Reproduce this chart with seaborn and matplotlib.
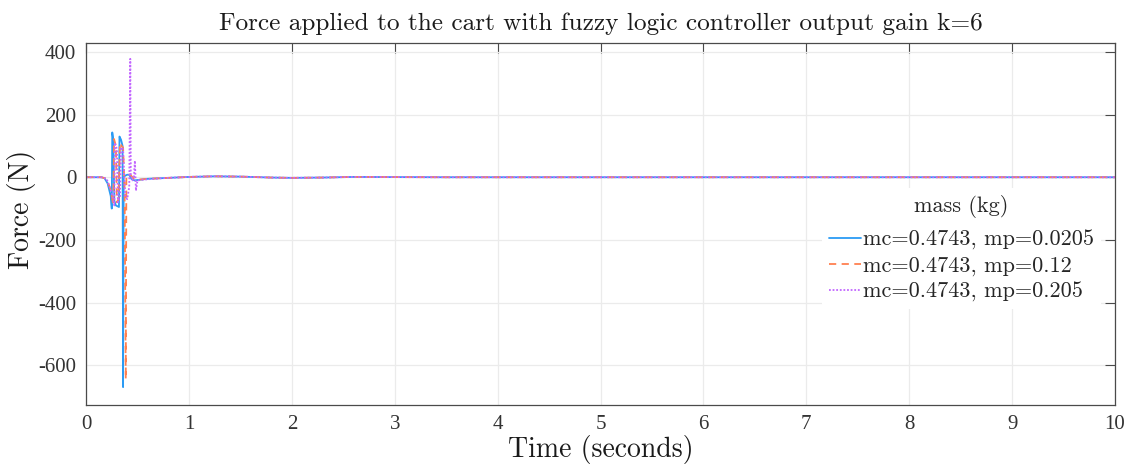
import numpy as np
import pandas as pd
import matplotlib
matplotlib.use("Agg")
import matplotlib.pyplot as plt
import seaborn as sns

# Cart force traces (time in s, force in N) for three pendulum masses
t_light = [0.00, 0.15, 0.18, 0.21, 0.24, 0.250, 0.255, 0.265, 0.275, 0.29, 0.32, 0.325,
           0.34, 0.355, 0.360, 0.366, 0.38, 0.40, 0.42, 0.44, 0.47, 0.52, 0.60, 0.80,
           1.00, 1.25, 1.50, 1.80, 2.00, 2.30, 2.60, 3.00, 3.50, 4.00, 5.00, 6.00, 8.00, 10.0]
f_light = [0, 0, -3, -20, -60, -100, 143, 120, -75, -90, -95, 130,
           120, 100, -670, 0, 5, 8, 8, -5, -10, -8, -5, -2,
           1, 3, 2, -1, -2, -1, 1, 0.5, 0, 0, 0, 0, 0, 0]

t_mid = [0.00, 0.15, 0.20, 0.24, 0.265, 0.272, 0.29, 0.30, 0.315, 0.33, 0.345, 0.36,
         0.375, 0.386, 0.392, 0.41, 0.43, 0.46, 0.50, 0.60, 0.80,
         1.00, 1.25, 1.50, 1.80, 2.00, 2.30, 2.60, 3.00, 3.50, 4.00, 5.00, 6.00, 8.00, 10.0]
f_mid = [0, 0, -5, -40, -90, 122, 100, -80, -70, 110, 100, 95,
         -40, -645, 5, 10, 8, -3, -8, -5, -2,
         1, 3, 2, -1, -2, -1, 1, 0.5, 0, 0, 0, 0, 0, 0]

t_heavy = [0.00, 0.15, 0.20, 0.25, 0.275, 0.28, 0.30, 0.31, 0.33, 0.34, 0.36, 0.38,
           0.40, 0.42, 0.43, 0.435, 0.45, 0.465, 0.475, 0.485, 0.50, 0.55, 0.65, 0.80,
           1.00, 1.25, 1.50, 1.80, 2.00, 2.30, 2.60, 3.00, 3.50, 4.00, 5.00, 6.00, 8.00, 10.0]
f_heavy = [0, 0, -5, -50, -90, 110, 90, -80, -60, 95, 90, -60,
           -70, -30, 378, 10, -10, 0, 53, -43, -10, -8, -5, -2,
           1, 3, 2, -1, -2, -1, 1, 0.5, 0, 0, 0, 0, 0, 0]

labels = ["mc=0.4743, mp=0.0205", "mc=0.4743, mp=0.12", "mc=0.4743, mp=0.205"]
x_ticks = list(range(0, 11))
y_ticks = [-600, -400, -200, 0, 200, 400]

df = pd.concat([
    pd.DataFrame({"Time": t_light, "Force": f_light, "mass": labels[0]}),
    pd.DataFrame({"Time": t_mid, "Force": f_mid, "mass": labels[1]}),
    pd.DataFrame({"Time": t_heavy, "Force": f_heavy, "mass": labels[2]}),
], ignore_index=True)

sns.set_style("white")
plt.rcParams["axes.unicode_minus"] = False
plt.rcParams["mathtext.fontset"] = "cm"

palette = {labels[0]: "#2b9bf4", labels[1]: "#ff8050", labels[2]: "#c266ff"}
dashes = {labels[0]: "", labels[1]: (4, 3), labels[2]: (1, 1)}

fig = plt.figure(figsize=(11.35, 4.66), dpi=100)
ax = fig.add_axes([0.0758, 0.131, 0.9066, 0.777])

sns.lineplot(data=df, x="Time", y="Force", hue="mass", style="mass",
             palette=palette, dashes=dashes, sort=False, estimator=None,
             linewidth=1.3, ax=ax)

ax.set_xlim(0, 10)
ax.set_ylim(-727, 429)
ax.set_xticks(x_ticks)
ax.set_yticks(y_ticks)
ax.set_xticklabels([str(v) for v in x_ticks])
ax.set_yticklabels([str(v) for v in y_ticks])
ax.grid(True, color="#ebebeb", linewidth=0.9)
ax.tick_params(direction="in", top=True, right=True, length=7, width=0.8,
               colors="#4a4a4a", labelcolor="#333333", labelsize=15, pad=7)
for lab in ax.get_xticklabels() + ax.get_yticklabels():
    lab.set_family("Liberation Serif")
for sp in ax.spines.values():
    sp.set_color("#4a4a4a")
    sp.set_linewidth(0.9)

ax.set_title("Force applied to the cart with fuzzy logic controller output gain k=6",
             family="cmr10", fontsize=18.2, pad=9, color="#1a1a1a")
ax.set_xlabel("Time (seconds)", family="cmr10", fontsize=20, labelpad=1, color="#1a1a1a")
ax.set_ylabel("Force (N)", family="cmr10", fontsize=20, labelpad=1.5, color="#1a1a1a")
ax.yaxis.label.set_y(0.541)

handles, _ = ax.get_legend_handles_labels()
leg = ax.legend(handles=handles, labels=labels, title="mass (kg)",
                loc="upper right", bbox_to_anchor=(0.986, 0.599),
                frameon=True, framealpha=1, edgecolor="none", facecolor="white",
                prop={"family": "cmr10", "size": 16},
                handlelength=1.45, handletextpad=0.1, labelspacing=0.27,
                borderpad=0.3, borderaxespad=0)
leg.get_title().set_family("cmr10")
leg.get_title().set_fontsize(16)
leg._legend_box.sep = 9

fig.savefig("out.png", dpi=100)
